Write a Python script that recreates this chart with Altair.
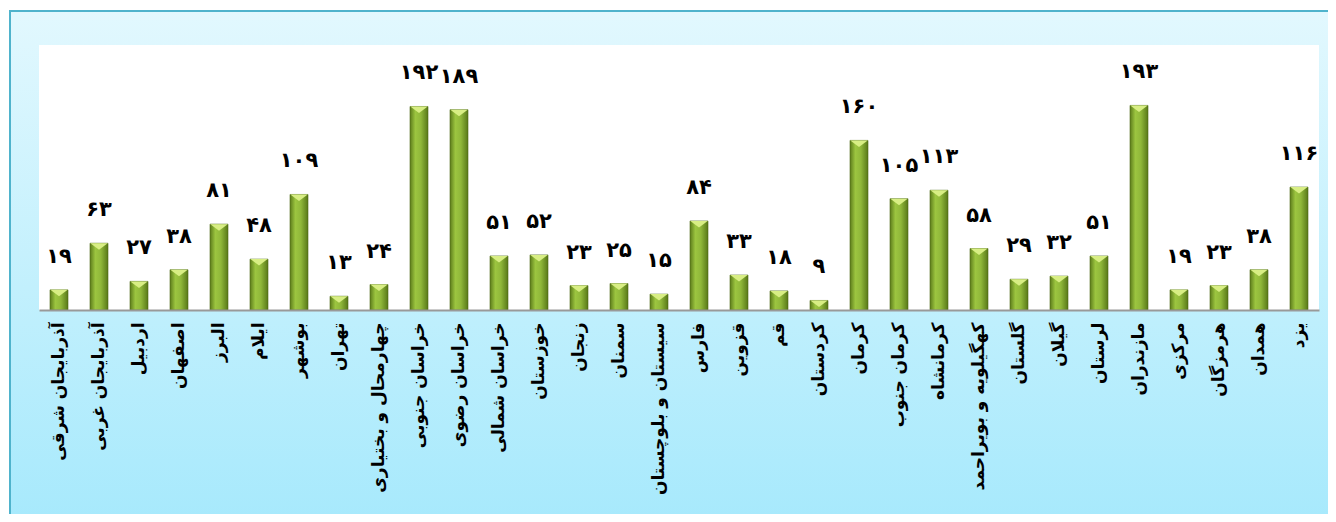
import altair as alt
import pandas as pd

provinces = [
    "آذربایجان شرقی", "آذربایجان غربی", "اردبیل", "اصفهان", "البرز", "ایلام",
    "بوشهر", "تهران", "چهارمحال و بختیاری", "خراسان جنوبی", "خراسان رضوی",
    "خراسان شمالی", "خوزستان", "زنجان", "سمنان", "سیستان و بلوچستان", "فارس",
    "قزوین", "قم", "کردستان", "کرمان", "کرمان جنوب", "کرمانشاه",
    "کهگیلویه و بویراحمد", "گلستان", "گیلان", "لرستان", "مازندران", "مرکزی",
    "هرمزگان", "همدان", "یزد",
]
values = [19, 63, 27, 38, 81, 48, 109, 13, 24, 192, 189, 51, 52, 23, 25, 15,
          84, 33, 18, 9, 160, 105, 113, 58, 29, 32, 51, 193, 19, 23, 38, 116]

persian = str.maketrans("0123456789", "۰۱۲۳۴۵۶۷۸۹")
df = pd.DataFrame({
    "province": provinces,
    "value": values,
    "label": [str(v).translate(persian) for v in values],
})

W, H = 1280, 265
FONT = "DejaVu Sans"

xenc = alt.X("province:N", sort=None, scale=alt.Scale(paddingInner=0, paddingOuter=0),
             axis=alt.Axis(title=None, labelAngle=-90, labelFontSize=17, labelFontWeight="bold",
                           labelColor="#000000", labelFont=FONT, ticks=False, labelPadding=12,
                           domainColor="#999999", domainWidth=2, zindex=2, labelLimit=300))
yenc = alt.Y("value:Q", scale=alt.Scale(domain=[0, 250]), axis=None)

base = alt.Chart(df)

frame = base.mark_rect(
    stroke="#4fb3cc", strokeWidth=2,
    fill=alt.Gradient(gradient="linear", x1=0, y1=0, x2=0, y2=1,
                      stops=[alt.GradientStop(offset=0, color="#e2f8fe"),
                             alt.GradientStop(offset=1, color="#a2e8fc")]),
).encode(x=alt.value(-29), x2=alt.value(1310), y=alt.value(-34), y2=alt.value(520))

inner = base.mark_rect(fill="#ffffff").encode(
    x=alt.value(0), x2=alt.value(W), y=alt.value(0), y2=alt.value(H))

bars = base.mark_bar(
    size=18, stroke="#4e6a16", strokeWidth=0.6,
    color=alt.Gradient(gradient="linear", x1=0, y1=0, x2=1, y2=0,
                       stops=[alt.GradientStop(offset=0, color="#5d7d1b"),
                              alt.GradientStop(offset=0.3, color="#9cc540"),
                              alt.GradientStop(offset=0.6, color="#90b83a"),
                              alt.GradientStop(offset=1, color="#587818")]),
).encode(x=xenc, y=yenc)

caps = base.mark_point(
    shape="M-1,0L1,0L0,0.75Z", size=300, filled=True, fill="#d8ee84", opacity=1, strokeWidth=0,
).encode(x=xenc, y=yenc)

labels = base.mark_text(
    font=FONT, fontSize=21, fontWeight="bold", color="#000000", baseline="middle", dy=-33,
).encode(x=xenc, y=yenc, text="label:N")

chart = alt.layer(frame, inner, bars, caps, labels).properties(
    width=W, height=H,
    autosize=alt.AutoSizeParams(type="none"),
    padding={"left": 31, "top": 37, "right": 9, "bottom": 204},
).configure_view(stroke=None).configure(background="#ffffff")

chart.save("out.html", embed_options={"renderer": "svg", "actions": False})
